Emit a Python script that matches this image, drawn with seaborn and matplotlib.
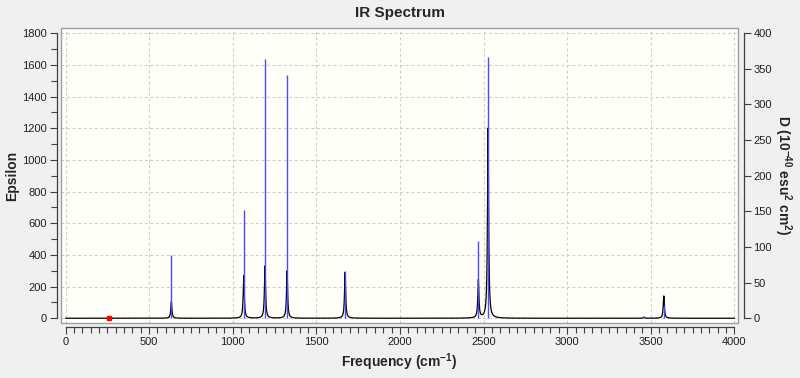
import numpy as np
import pandas as pd
import seaborn as sns
import matplotlib.pyplot as plt
from matplotlib.patches import Rectangle
from matplotlib.ticker import MultipleLocator

# --- data ---
# stick positions (cm-1) and dipole strengths D (right axis)
freqs = [633, 1066, 1193, 1325, 1672, 2469, 2527, 3460, 3578]
d_values = [89, 152, 364, 341, 66, 109, 366, 3, 19]
# height of the broadened epsilon curve at each band (left axis)
eps_peaks = [105, 270, 330, 300, 290, 240, 1200, 6, 141]
hwhm = 4.0  # lorentzian half width used for the broadened curve
# red marker on the baseline
marker_freq = [261]
marker_eps = [0]

# broadened spectrum from the band list
grid = np.arange(0, 4000.5, 0.5)
eps = np.zeros_like(grid)
for f, h in zip(freqs, eps_peaks):
    eps += h * hwhm**2 / ((grid - f) ** 2 + hwhm**2)
spec = pd.DataFrame({'freq': grid, 'eps': eps})

sns.set_style('white')
plt.rcParams['font.family'] = ['Liberation Sans', 'DejaVu Sans']
plt.rcParams['mathtext.fontset'] = 'custom'
plt.rcParams['mathtext.rm'] = 'Liberation Sans'
plt.rcParams['mathtext.bf'] = 'Liberation Sans:bold'

fig = plt.figure(figsize=(8, 3.78), dpi=100, facecolor='#f0f0f0')
ax = fig.add_axes([0.07625, 0.1455, 0.8463, 0.7805])
ax.set_facecolor('#fffff8')

x_lo, x_hi = -27, 4022
y_lo, y_hi = -30, 1833
ratio = 4.5  # epsilon / D scale

# grid
for xv in range(0, 4001, 500):
    ax.axvline(xv, color='#cccccc', lw=0.8, ls=(0, (2.5, 2.5)), zorder=0)
for yv in range(0, 1801, 200):
    ax.axhline(yv, color='#cccccc', lw=0.8, ls=(0, (2.5, 2.5)), zorder=0)

sns.lineplot(data=spec, x='freq', y='eps', ax=ax, color='black', lw=0.9, zorder=3)
ax.plot(marker_freq, marker_eps, marker='s', ms=3.5, color='red', ls='none', zorder=5)

ax.set_xlim(x_lo, x_hi)
ax.set_ylim(y_lo, y_hi)

# frame
ax.add_patch(Rectangle((0, 0), 1, 1, transform=ax.transAxes, fill=False,
                       edgecolor='#a0a0a0', lw=1.0, zorder=10, clip_on=False))

for s in ['top', 'right']:
    ax.spines[s].set_visible(False)
for s in ['left', 'bottom']:
    ax.spines[s].set_position(('outward', 3))
    ax.spines[s].set_color('#404040')
    ax.spines[s].set_linewidth(0.9)
ax.spines['left'].set_bounds(0, 1800)
ax.spines['bottom'].set_bounds(0, 4000)

ax.xaxis.set_major_locator(MultipleLocator(500))
ax.xaxis.set_minor_locator(MultipleLocator(50))
ax.yaxis.set_major_locator(MultipleLocator(200))
ax.yaxis.set_minor_locator(MultipleLocator(100))
ax.tick_params(axis='both', which='major', length=5, width=0.8, color='#404040',
               labelsize=8, labelcolor='#202020', pad=2)
ax.tick_params(axis='both', which='minor', length=4, width=0.8, color='#404040')
ax.tick_params(axis='x', which='both', bottom=True, direction='out')
ax.tick_params(axis='y', which='both', left=True, direction='out')

ax.set_xlabel(r'Frequency (cm$^{\mathbf{-1}}$)', fontsize=10, fontweight='bold', labelpad=3)
ax.set_ylabel('Epsilon', fontsize=10, fontweight='bold', va='center')
ax.yaxis.set_label_coords(-0.0724, 0.5)
ax.set_title('IR Spectrum', fontsize=11, fontweight='bold', pad=8)

# right axis with the sticks
ax2 = ax.twinx()
ax2.set_ylim(y_lo / ratio, y_hi / ratio)
ax2.vlines(freqs, 0, d_values, color='#4a4aff', lw=1.0, zorder=4)
ax2.set_xlim(x_lo, x_hi)
for s in ['top', 'left', 'bottom']:
    ax2.spines[s].set_visible(False)
ax2.spines['right'].set_position(('outward', 4))
ax2.spines['right'].set_color('#404040')
ax2.spines['right'].set_linewidth(0.9)
ax2.spines['right'].set_bounds(0, 400)
ax2.yaxis.set_major_locator(MultipleLocator(50))
ax2.tick_params(axis='y', which='major', length=5, width=0.8, color='#404040',
                labelsize=8, labelcolor='#202020', pad=2, right=True, direction='out')
ax2.set_ylabel(r'D (10$^{\mathbf{-40}}$ esu$^{\mathbf{2}}$ cm$^{\mathbf{2}}$)', fontsize=10,
               fontweight='bold', rotation=270, va='center')
ax2.yaxis.set_label_coords(1.066, 0.5)

fig.savefig('out.png', dpi=100, facecolor=fig.get_facecolor())
